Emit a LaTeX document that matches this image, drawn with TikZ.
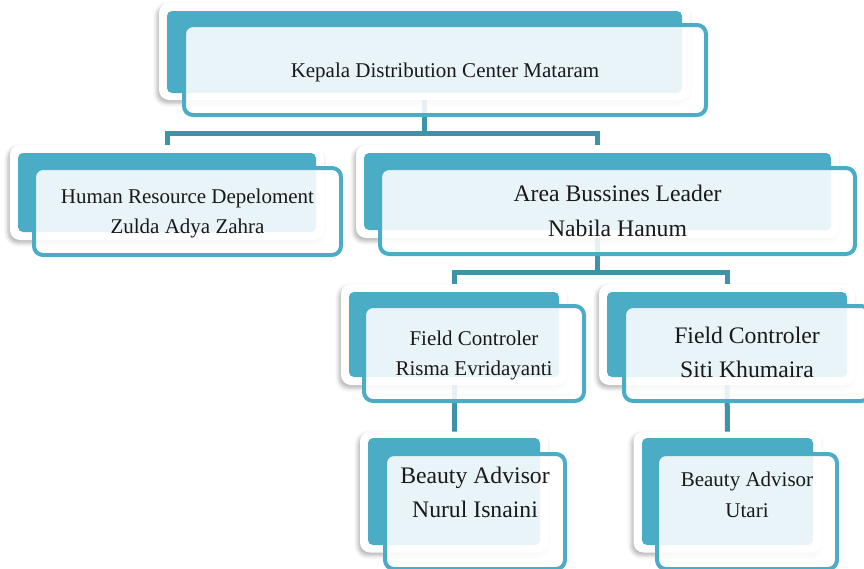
\documentclass[tikz,border=0pt]{standalone}
\usepackage{fontspec}
\setmainfont{Liberation Serif}
\usetikzlibrary{shadows.blur}
\definecolor{tealback}{HTML}{4BACC6}
\definecolor{tealline}{HTML}{4BACC6}
\definecolor{connc}{HTML}{3F93A9}
\pgfdeclarelayer{bg}
\pgfsetlayers{bg,main}
\tikzset{
  whitebox/.style={fill=white, draw=none, rounded corners=10pt, inner sep=0pt,
    blur shadow={shadow xshift=-2pt, shadow yshift=-3pt, shadow blur radius=4pt, shadow opacity=30}},
  backbox/.style={fill=tealback, draw=none, rounded corners=5pt, inner sep=0pt},
  frontbox/.style={draw=tealline, line width=4pt, fill=white, fill opacity=0.88, rounded corners=9pt, inner sep=0pt},
  conn/.style={draw=connc, line width=5pt},
  lbl/.style={anchor=base, inner sep=0pt, text=black!90},
  smalltxt/.style={lbl, font=\fontsize{21}{25}\selectfont},
  bigtxt/.style={lbl, font=\fontsize{23.7}{28}\selectfont},
}
\begin{document}
\begin{tikzpicture}[x=1pt, y=-1pt]
\useasboundingbox (0,0) rectangle (864,568);
\clip (0,0) rectangle (864,568);

% Kepala
\node[whitebox, minimum width=531pt, minimum height=97pt] (kw) at (424.5,51.5) {};
\node[backbox, minimum width=515pt, minimum height=82pt] (kb) at (424.5,52) {};
\node[frontbox, minimum width=522pt, minimum height=90pt] (kf) at (445,70) {};
\node[smalltxt] (kt) at (445,77) {Kepala Distribution Center Mataram};

% HRD
\node[whitebox, minimum width=314pt, minimum height=95pt] (hw) at (167,192.5) {};
\node[backbox, minimum width=298pt, minimum height=79pt] (hb) at (167,192.5) {};
\node[frontbox, minimum width=307pt, minimum height=87pt] (hf) at (187.5,211.5) {};
\node[smalltxt] (ht1) at (187.5,203) {Human Resource Depeloment};
\node[smalltxt] (ht2) at (187.5,233) {Zulda Adya Zahra};

% ABL
\node[whitebox, minimum width=483pt, minimum height=93pt] (aw) at (597.5,191.5) {};
\node[backbox, minimum width=467pt, minimum height=77pt] (ab) at (597.5,191.5) {};
\node[frontbox, minimum width=475pt, minimum height=86pt] (af) at (617.5,211) {};
\node[bigtxt] (at1) at (617.5,201) {Area Bussines Leader};
\node[bigtxt] (at2) at (617.5,236) {Nabila Hanum};

% FC Risma
\node[whitebox, minimum width=226pt, minimum height=101pt] (rw) at (454,334.5) {};
\node[backbox, minimum width=210pt, minimum height=85pt] (rb) at (454,334.5) {};
\node[frontbox, minimum width=220pt, minimum height=95pt] (rf) at (474,353.5) {};
\node[smalltxt] (rt1) at (474,345) {Field Controler};
\node[smalltxt] (rt2) at (474,375) {Risma Evridayanti};

% FC Siti
\node[whitebox, minimum width=256pt, minimum height=101pt] (sw) at (727,334.5) {};
\node[backbox, minimum width=240pt, minimum height=85pt] (sb) at (727,334.5) {};
\node[frontbox, minimum width=246pt, minimum height=95pt] (sf) at (747,353.5) {};
\node[bigtxt] (st1) at (747,343) {Field Controler};
\node[bigtxt] (st2) at (747,377) {Siti Khumaira};

% BA Nurul
\node[whitebox, minimum width=188pt, minimum height=121pt] (nw) at (454,492) {};
\node[backbox, minimum width=172pt, minimum height=107pt] (nb) at (454,491.5) {};
\node[frontbox, minimum width=180pt, minimum height=115pt] (nf) at (475,511.5) {};
\node[bigtxt] (nt1) at (475,483) {Beauty Advisor};
\node[bigtxt] (nt2) at (475,517) {Nurul Isnaini};

% BA Utari
\node[whitebox, minimum width=188pt, minimum height=121pt] (uw) at (727.5,492) {};
\node[backbox, minimum width=171pt, minimum height=107pt] (ub) at (727.5,491.5) {};
\node[frontbox, minimum width=180pt, minimum height=115pt] (uf) at (747,511.5) {};
\node[smalltxt] (ut1) at (747,486) {Beauty Advisor};
\node[smalltxt] (ut2) at (747,517) {Utari};

% connectors
\begin{pgfonlayer}{bg}
\coordinate (j1) at (424.5,133);
\coordinate (j2) at (597.5,272);
\draw[conn] (kb.south) -- (j1) -| (hb.north);
\draw[conn] (j1) -| (ab.north);
\draw[conn] (ab.south) -- (j2) -| (rb.north);
\draw[conn] (j2) -| (sb.north);
\draw[conn] (rb.south) -- (nb.north);
\draw[conn] (sb.south) -- (ub.north);
\end{pgfonlayer}
\end{tikzpicture}
\end{document}
